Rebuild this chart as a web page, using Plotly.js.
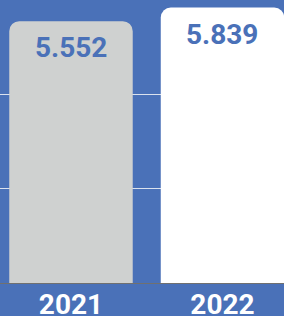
<!DOCTYPE html>
<html>
<head>
<meta charset="utf-8">
<script src="https://cdn.plot.ly/plotly-3.0.1.min.js"></script>
<style>html,body{margin:0;padding:0;background:#4a71b8;}#chart{width:284px;height:316px;}</style>
</head>
<body>
<div id="chart"></div>
<script>
var years = ['2021', '2022'];
var values = [5.552, 5.839];
var valueLabels = ['5.552', '5.839'];
var barColors = ['#cfd1d0', '#ffffff'];

var trace = {
  type: 'bar',
  x: years,
  y: values,
  marker: {color: barColors, cornerradius: 10, line: {width: 0}},
  hoverinfo: 'none'
};

var annotations = years.map(function (yr, i) {
  return {
    x: i, y: values[i], xref: 'x', yref: 'y',
    text: '<b>' + valueLabels[i] + '</b>',
    showarrow: false, yanchor: 'top', yshift: -8,
    font: {family: 'Roboto', size: 28, color: '#4a71b8'}
  };
});

var layout = {
  width: 284, height: 316,
  margin: {l: 0, r: 0, t: 0, b: 33},
  paper_bgcolor: '#4a71b8',
  plot_bgcolor: '#4a71b8',
  showlegend: false,
  bargap: 0.185,
  xaxis: {
    type: 'category',
    range: [-0.4686, 1.406],
    showgrid: false, zeroline: false, showline: false,
    ticks: '',
    tickfont: {family: 'Roboto', size: 28, color: '#ffffff', weight: 'bold'},
    ticklabelstandoff: 2
  },
  yaxis: {
    range: [0, 6],
    dtick: 2,
    showticklabels: false,
    showgrid: true, gridcolor: '#dbe2ee', gridwidth: 1,
    zeroline: true, zerolinecolor: '#707070', zerolinewidth: 1,
    showline: false, ticks: ''
  },
  annotations: annotations
};

Plotly.newPlot('chart', [trace], layout, {displayModeBar: false, staticPlot: true});
</script>
</body>
</html>
